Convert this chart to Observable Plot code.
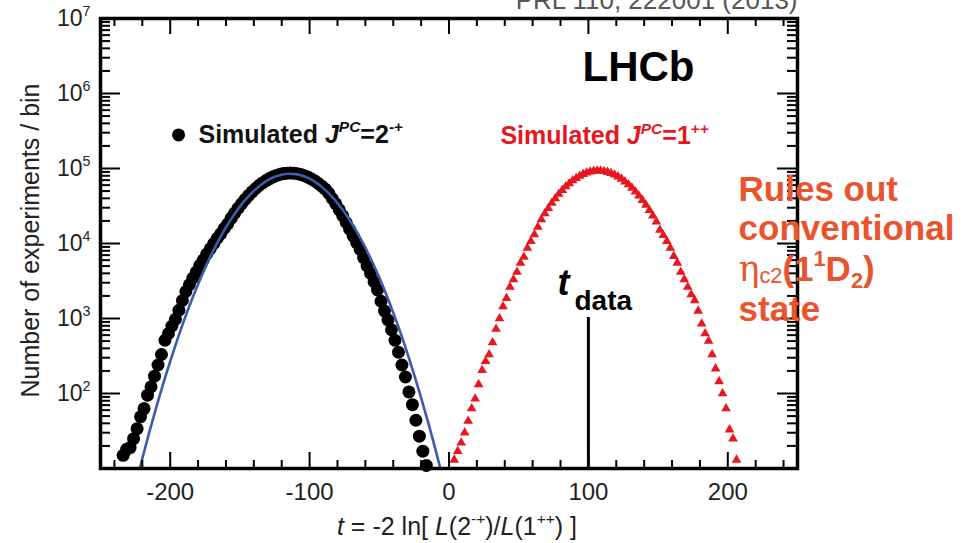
<!DOCTYPE html>
<html><head><meta charset="utf-8">
<script src="https://cdn.jsdelivr.net/npm/d3@7"></script>
<script src="https://cdn.jsdelivr.net/npm/@observablehq/plot@0.6"></script>
<style>html,body{margin:0;padding:0;background:#fff;} #chart{width:967px;height:543px;overflow:hidden}</style>
</head><body><div id="chart"></div>
<script>
// ---- Data (bin centres of t and experiments per bin) ----
const blackT = [-233.75,-231.25,-228.75,-226.25,-223.75,-221.25,-218.75,-216.25,-213.75,-211.25,-208.75,-206.25,-203.75,-201.25,-198.75,-196.25,-193.75,-191.25,-188.75,-186.25,-183.75,-181.25,-178.75,-176.25,-173.75,-171.25,-168.75,-166.25,-163.75,-161.25,-158.75,-156.25,-153.75,-151.25,-148.75,-146.25,-143.75,-141.25,-138.75,-136.25,-133.75,-131.25,-128.75,-126.25,-123.75,-121.25,-118.75,-116.25,-113.75,-111.25,-108.75,-106.25,-103.75,-101.25,-98.75,-96.25,-93.75,-91.25,-88.75,-86.25,-83.75,-81.25,-78.75,-76.25,-73.75,-71.25,-68.75,-66.25,-63.75,-61.25,-58.75,-56.25,-53.75,-51.25,-48.75,-46.25,-43.75,-41.25,-38.75,-36.25,-33.75,-31.25,-28.75,-26.25,-23.75,-21.25,-18.75,-16.25];
const blackN = [15,18,19,25,34,49,63,95,123,170,240,331,513,631,794,977,1288,1738,2291,2818,3467,4169,5129,6026,7244,8511,10000,11749,13490,15849,18197,21730,25470,29580,34040,38730,43750,48870,54080,59290,64270,69020,73450,77450,80910,83560,85510,86700,87100,86500,85310,83180,80170,76740,72610,68230,63240,58210,52970,46770,39810,33880,28180,23440,19050,15490,12590,10230,8318,6457,5012,3981,3090,2399,1698,1259,955,708,513,355,240,166,105,71,44,27,17,11];

const redT = [3.75,6.25,8.75,11.25,13.75,16.25,18.75,21.25,23.75,26.25,28.75,31.25,33.75,36.25,38.75,41.25,43.75,46.25,48.75,51.25,53.75,56.25,58.75,61.25,63.75,66.25,68.75,71.25,73.75,76.25,78.75,81.25,83.75,86.25,88.75,91.25,93.75,96.25,98.75,101.25,103.75,106.25,108.75,111.25,113.75,116.25,118.75,121.25,123.75,126.25,128.75,131.25,133.75,136.25,138.75,141.25,143.75,146.25,148.75,151.25,153.75,156.25,158.75,161.25,163.75,166.25,168.75,171.25,173.75,176.25,178.75,181.25,183.75,186.25,188.75,191.25,193.75,196.25,198.75,201.25,203.75,206.25];
const redN = [13,17,22,30,43,63,85,132,204,269,331,479,724,1000,1445,1862,2630,3311,4169,5495,6607,8710,10715,13183,16596,20893,25119,29512,34674,39811,45709,51286,57544,63096,69183,74131,79433,84140,87700,90570,92470,93330,93110,91830,89540,86500,82410,77800,72610,66830,61090,55080,49090,43250,37760,32580,27730,23390,19500,15140,12880,10720,8710,6760,5500,4170,3310,2630,2090,1740,1260,851,631,501,331,214,145,100,63,33,25,13];

// Gaussian fit to the 2-+ distribution (blue curve)
const fitT = [-222,-220,-215,-210,-205,-200,-195,-190,-185,-180,-175,-170,-165,-160,-155,-150,-145,-140,-135,-130,-125,-120,-115,-110,-105,-100,-95,-90,-85,-80,-75,-70,-65,-60,-55,-50,-45,-40,-35,-30,-25,-20,-15,-10,-6];
const fitN = [9.7,13.6,30.3,65.3,135,269,515,951,1683,2871,4699,7413,11250,16410,23010,31050,40270,50350,60390,69740,77450,82790,85110,84060,79980,73110,64270,54330,44260,34590,26060,18880,13120,8790,5662,3516,2094,1199,662,351,179,87.7,41.4,18.8,9.7];

// Observed value
const tData = 100;
const tDataTop = 1030;

// Axis ticks and labels
const xMajor = [-200, -100, 0, 100, 200];
const xMinor = [-240,-220,-180,-160,-140,-120,-80,-60,-40,-20,20,40,60,80,120,140,160,180,220,240];
const yMajor = [1e2, 1e3, 1e4, 1e5, 1e6, 1e7];
const yMinor = [1,2,3,4,5,6].flatMap(k => [2,3,4,5,6,7,8,9].map(m => m * 10 ** k));
const yTickLabel = ["10^{2}","10^{3}","10^{4}","10^{5}","10^{6}","10^{7}"];

const xTitle = "~{t} = -2 ln[ ~{L}(2^{-+})/~{L}(1^{++}) ]";
const yTitle = "Number of experiments / bin";
const legendBlack = "Simulated ~{J}^{~{PC}}=2^{-+}";
const legendRed = "Simulated ~{J}^{~{PC}}=1^{++}";
const refText = "PRL 110, 222001 (2013)";
const noteLines = ["Rules out", "conventional", "#{η}&{c2}(1^{1}D_{2})", "state"];

// ---- Build ----
const black = blackT.map((t, i) => ({t, n: blackN[i]}));
const red = redT.map((t, i) => ({t, n: redN[i]}));
const fit = fitT.map((t, i) => ({t, n: fitN[i]}));

const RED = "#e8161f";
const ORANGE = "#e9532d";
const BLUE = "#3b5ca8";
const W = 697, H = 450; // inner frame size in px (for tick lengths)

const chart = Plot.plot({
  width: 967, height: 543,
  marginLeft: 100, marginRight: 170, marginTop: 18, marginBottom: 75,
  x: {domain: [-250, 250]},
  y: {type: "log", domain: [10, 1e7]},
  style: {fontFamily: "'Liberation Sans', Arial, Helvetica, sans-serif", background: "white", color: "black"},
  marks: [
    Plot.dot(black, {x: "t", y: "n", r: 6.5, fill: "black"}),
    Plot.line(fit, {x: "t", y: "n", stroke: BLUE, strokeWidth: 2.6, curve: "natural", clip: true}),
    Plot.dot(red, {x: "t", y: "n", symbol: "triangle", r: 3.6, fill: RED}),
    Plot.ruleX([tData], {x: d => d, y1: 10, y2: tDataTop, strokeWidth: 3, stroke: "black"}),
    // inward ticks on all four sides
    Plot.ruleX(xMajor, {x: d => d, insetTop: H - 16, stroke: "black", strokeWidth: 2}),
    Plot.ruleX(xMinor, {x: d => d, insetTop: H - 8, stroke: "black", strokeWidth: 2}),
    Plot.ruleX(xMajor, {x: d => d, insetBottom: H - 16, stroke: "black", strokeWidth: 2}),
    Plot.ruleX(xMinor, {x: d => d, insetBottom: H - 8, stroke: "black", strokeWidth: 2}),
    Plot.ruleY(yMajor, {y: d => d, insetRight: W - 20, stroke: "black", strokeWidth: 2}),
    Plot.ruleY(yMinor, {y: d => d, insetRight: W - 10, stroke: "black", strokeWidth: 2}),
    Plot.ruleY(yMajor, {y: d => d, insetLeft: W - 20, stroke: "black", strokeWidth: 2}),
    Plot.ruleY(yMinor, {y: d => d, insetLeft: W - 10, stroke: "black", strokeWidth: 2}),
    Plot.frame({stroke: "black", strokeWidth: 3.5}),
    // tick labels
    Plot.axisX({ticks: xMajor, anchor: "bottom", tickSize: 0, tickPadding: 14, tickFormat: d => String(d), fontSize: 24, fill: "#222", label: null}),
    Plot.axisY({ticks: yMajor, anchor: "left", tickSize: 0, tickPadding: 10, tickFormat: d => yTickLabel[yMajor.indexOf(d)], fontSize: 23, fill: "#222", label: null}),
    // axis titles
    Plot.text([xTitle], {frameAnchor: "bottom", dx: 8, dy: 66, lineAnchor: "bottom", textAnchor: "middle", fontSize: 25, fill: "#222"}),
    Plot.text([yTitle], {frameAnchor: "left", rotate: -90, dx: -70, dy: -3, textAnchor: "middle", lineAnchor: "middle", fontSize: 25, fill: "#222"}),
    Plot.text([refText], {frameAnchor: "top-right", dx: 0, dy: -10, textAnchor: "end", lineAnchor: "bottom", fontSize: 26, fill: "#555"}),
    // legend
    Plot.dot([{t: -194, n: 2.8e5}], {x: "t", y: "n", r: 6.5, fill: "black"}),
    Plot.text([{t: -179.7, n: 2.8e5, s: legendBlack}], {x: "t", y: "n", text: "s", textAnchor: "start", fontSize: 25, fontWeight: "bold", fill: "#111"}),
    Plot.text([{t: 36.9, n: 2.7e5, s: legendRed}], {x: "t", y: "n", text: "s", textAnchor: "start", fontSize: 25, fontWeight: "bold", fill: RED}),
    Plot.text([{t: 95.8, n: 1.49e6, s: "LHCb"}], {x: "t", y: "n", text: "s", textAnchor: "start", lineAnchor: "bottom", fontSize: 42, fontWeight: "bold", fill: "black"}),
    // t_data label
    Plot.text([{t: 77.8, n: 2030, s: "t"}], {x: "t", y: "n", text: "s", textAnchor: "start", lineAnchor: "bottom", fontSize: 36, fontWeight: "bold", fontStyle: "italic", fill: "black"}),
    Plot.text([{t: 90, n: 1280, s: "data"}], {x: "t", y: "n", text: "s", textAnchor: "start", lineAnchor: "bottom", fontSize: 28, fontWeight: "bold", fill: "black"}),
    // note
    Plot.text(noteLines.map((s, i) => ({s, t: 207.7, n: [37430, 10965, 3162, 926][i]})), {x: "t", y: "n", text: "s", textAnchor: "start", lineAnchor: "bottom", fontSize: 35, fontWeight: "bold", fill: ORANGE})
  ]
});
document.getElementById("chart").appendChild(chart);

// ---- rich text: ^{sup} _{sub} ~{italic} #{serif normal} @{normal} &{small index} ----
const SVGNS = "http://www.w3.org/2000/svg";
function richify(el) {
  const src = el.textContent;
  if (!/[\^_~#@&]\{/.test(src)) return;
  const base = parseFloat(getComputedStyle(el).fontSize) || 16;
  while (el.firstChild) el.removeChild(el.firstChild);
  let cur = 0;
  const emit = (str, st) => {
    const t = document.createElementNS(SVGNS, "tspan");
    const d = st.shift - cur;
    if (Math.abs(d) > 0.01) t.setAttribute("dy", d.toFixed(2));
    cur = st.shift;
    if (st.scale !== 1) t.setAttribute("font-size", (base * st.scale).toFixed(2));
    if (st.italic) t.setAttribute("font-style", "italic");
    if (st.weight) t.setAttribute("font-weight", st.weight);
    if (st.family) t.setAttribute("font-family", st.family);
    t.textContent = str;
    el.appendChild(t);
  };
  const parse = (s, st) => {
    let buf = "";
    for (let i = 0; i < s.length; i++) {
      const c = s[i];
      if ("^_~#@&".includes(c) && s[i + 1] === "{") {
        if (buf) { emit(buf, st); buf = ""; }
        let depth = 1, j = i + 2;
        while (j < s.length && depth) { if (s[j] === "{") depth++; else if (s[j] === "}") depth--; j++; }
        const inner = s.slice(i + 2, j - 1);
        const size = base * st.scale;
        const ns = {...st};
        if (c === "^") { ns.shift = st.shift - size * 0.42; ns.scale = st.scale * 0.62; }
        else if (c === "_") { ns.shift = st.shift + size * 0.2; ns.scale = st.scale * 0.62; }
        else if (c === "~") ns.italic = true;
        else if (c === "#") { ns.weight = "normal"; ns.family = "'DejaVu Serif', serif"; }
        else if (c === "@") ns.weight = "normal";
        else if (c === "&") { ns.weight = "normal"; ns.shift = st.shift + size * 0.06; ns.scale = st.scale * 0.62; }
        parse(inner, ns);
        i = j - 1;
      } else buf += c;
    }
    if (buf) emit(buf, st);
  };
  parse(src, {shift: 0, scale: 1});
}
chart.querySelectorAll("text").forEach(richify);
</script></body></html>
